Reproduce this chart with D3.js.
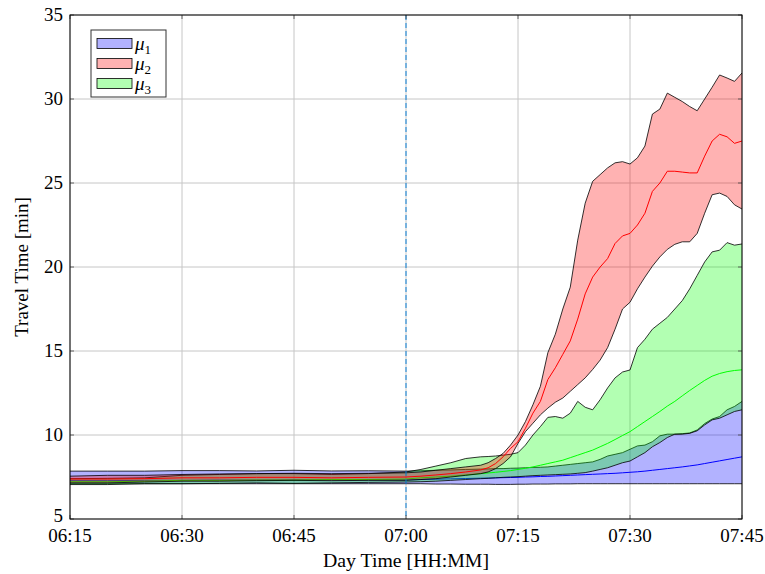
<!DOCTYPE html>
<html>
<head>
<meta charset="utf-8">
<script src="https://cdn.jsdelivr.net/npm/d3@7"></script>
<style>
  body { margin: 0; background: #fff; }
  text { font-family: "Liberation Serif", "DejaVu Serif", serif; }
</style>
</head>
<body>
<svg id="chart" width="765" height="574"></svg>
<script>
// minutes after 06:15
const minutes = [0, 5, 10, 15, 20, 25, 30, 35, 40, 45, 47, 49, 51, 53, 55,
  56, 57, 58, 59, 60, 61, 62, 63, 64, 65, 66, 67, 68, 69, 70, 71, 72, 73, 74, 75,
  76, 77, 78, 79, 80, 81, 82, 83, 84, 85, 86, 87, 88, 89, 90];

// mu_1 (blue)
const mu1Lower = [7.1, 7.1, 7.1, 7.1, 7.1, 7.1, 7.1, 7.1, 7.1, 7.1, 7.1, 7.08, 7.08, 7.07, 7.07,
  7.07, 7.06, 7.06, 7.06, 7.07, 7.07, 7.08, 7.08, 7.08, 7.09, 7.09, 7.09, 7.1, 7.1, 7.1, 7.1, 7.1, 7.1, 7.1, 7.1,
  7.1, 7.1, 7.1, 7.1, 7.1, 7.1, 7.1, 7.1, 7.1, 7.1, 7.1, 7.1, 7.1, 7.1, 7.1];
const mu1Mean = [7.28, 7.28, 7.3, 7.3, 7.32, 7.32, 7.33, 7.33, 7.33, 7.33, 7.35, 7.37, 7.39, 7.41, 7.43,
  7.44, 7.45, 7.46, 7.47, 7.48, 7.5, 7.51, 7.53, 7.54, 7.56, 7.58, 7.6, 7.62, 7.64, 7.66, 7.68, 7.7, 7.72, 7.75, 7.78,
  7.81, 7.85, 7.9, 7.95, 8.0, 8.05, 8.1, 8.16, 8.22, 8.3, 8.38, 8.46, 8.54, 8.62, 8.7];
const mu1Upper = [7.85, 7.85, 7.85, 7.88, 7.88, 7.86, 7.9, 7.86, 7.87, 7.85, 7.87, 7.9, 7.92, 7.95, 7.97,
  7.98, 8.0, 8.0, 8.02, 8.03, 8.05, 8.07, 8.08, 8.1, 8.15, 8.2, 8.25, 8.3, 8.35, 8.4, 8.55, 8.75, 8.85, 8.95, 9.15,
  9.35, 9.4, 9.6, 9.95, 10.05, 10.05, 10.08, 10.12, 10.3, 10.68, 10.95, 11.1, 11.5, 11.7, 12.0];

// mu_2 (red)
const mu2Lower = [7.15, 7.15, 7.2, 7.25, 7.25, 7.28, 7.3, 7.28, 7.3, 7.3, 7.35, 7.4, 7.5, 7.6, 7.7,
  7.8, 8.0, 8.3, 8.7, 9.5, 10.2, 10.7, 11.2, 11.6, 11.95, 12.2, 12.6, 13.0, 13.4, 13.9, 14.46, 15.2, 16.3, 17.5, 17.9,
  18.7, 19.4, 20.05, 20.6, 21.05, 21.35, 21.5, 21.5, 22.0, 23.2, 24.3, 24.4, 24.2, 23.7, 23.45];
const mu2Mean = [7.38, 7.38, 7.4, 7.45, 7.45, 7.48, 7.48, 7.45, 7.48, 7.5, 7.55, 7.62, 7.7, 7.8, 7.92,
  8.05, 8.3, 8.7, 9.2, 9.6, 10.4, 11.3, 12.0, 13.3, 14.0, 14.8, 15.6, 16.9, 18.4, 19.4, 20.0, 20.5, 21.4, 21.85, 22.0,
  22.5, 23.2, 24.5, 25.0, 25.7, 25.7, 25.65, 25.6, 25.6, 26.6, 27.5, 27.9, 27.75, 27.36, 27.5];
const mu2Upper = [7.55, 7.6, 7.6, 7.65, 7.68, 7.7, 7.72, 7.7, 7.72, 7.75, 7.8, 7.9, 8.0, 8.1, 8.2,
  8.35, 8.6, 8.9, 9.4, 10.0, 10.8, 11.8, 12.9, 14.9, 16.0, 17.5, 18.8, 21.6, 23.8, 25.1, 25.5, 25.9, 26.2, 26.27, 26.13,
  26.5, 27.2, 29.1, 29.4, 30.35, 30.1, 29.85, 29.55, 29.3, 30.0, 30.7, 31.43, 31.25, 31.05, 31.55];

// mu_3 (green)
const mu3Lower = [7.05, 7.05, 7.1, 7.1, 7.12, 7.15, 7.12, 7.15, 7.18, 7.2, 7.22, 7.25, 7.3, 7.35, 7.4,
  7.42, 7.45, 7.48, 7.5, 7.52, 7.55, 7.58, 7.6, 7.62, 7.64, 7.66, 7.68, 7.72, 7.76, 7.85, 7.95, 8.05, 8.2, 8.35, 8.45,
  8.7, 8.95, 9.3, 9.55, 9.85, 10.05, 10.05, 10.1, 10.25, 10.6, 10.9, 11.0, 11.2, 11.4, 11.5];
const mu3Mean = [7.22, 7.22, 7.25, 7.3, 7.3, 7.32, 7.32, 7.35, 7.35, 7.38, 7.45, 7.5, 7.55, 7.62, 7.7,
  7.74, 7.78, 7.83, 7.88, 7.95, 8.02, 8.1, 8.2, 8.3, 8.4, 8.5, 8.65, 8.8, 8.95, 9.1, 9.3, 9.5, 9.73, 9.97, 10.2,
  10.5, 10.8, 11.1, 11.4, 11.72, 12.0, 12.33, 12.65, 12.95, 13.25, 13.5, 13.66, 13.77, 13.84, 13.88];
const mu3Upper = [7.4, 7.42, 7.45, 7.6, 7.65, 7.7, 7.7, 7.65, 7.7, 7.8, 7.95, 8.15, 8.35, 8.6, 8.7,
  8.72, 8.75, 8.8, 8.85, 8.95, 9.4, 10.0, 10.5, 11.05, 11.1, 11.0, 11.3, 12.0, 11.65, 11.5, 12.1, 12.8, 13.4, 13.75, 13.87,
  15.2, 15.7, 16.3, 16.65, 17.0, 17.5, 18.0, 18.7, 19.5, 20.3, 20.9, 21.0, 21.45, 21.3, 21.37];

const yTicks = [5, 10, 15, 20, 25, 30, 35];
const xTickMinutes = [0, 15, 30, 45, 60, 75, 90];
const markerMinute = 45; // 07:00

const series = [
    { name: "1", color: "#0000ff", lo: mu1Lower, mean: mu1Mean, hi: mu1Upper },
    { name: "3", color: "#00ff00", lo: mu3Lower, mean: mu3Mean, hi: mu3Upper },
    { name: "2", color: "#ff0000", lo: mu2Lower, mean: mu2Mean, hi: mu2Upper }
]

const FONT = "Liberation Serif, DejaVu Serif, serif"
const margin = { top: 15, right: 23, bottom: 55, left: 70 }
const width = 765 - margin.left - margin.right
const height = 574 - margin.top - margin.bottom

const base = new Date(2000, 0, 1, 6, 15)
const toDate = m => new Date(base.getTime() + m * 60000)

const x = d3.scaleTime().domain([toDate(0), toDate(90)]).range([0, width])
const y = d3.scaleLinear().domain([5, 35]).range([height, 0])

const svg = d3.select("#chart").attr("font-family", FONT)
const g = svg.append("g").attr("transform", `translate(${margin.left},${margin.top})`)

g.append("clipPath").attr("id", "plotclip")
    .append("rect").attr("width", width).attr("height", height)

// grid
g.append("g").selectAll("line").data(xTickMinutes).join("line")
    .attr("x1", d => x(toDate(d))).attr("x2", d => x(toDate(d)))
    .attr("y1", 0).attr("y2", height)
    .attr("stroke", "#c6c6c6").attr("stroke-width", 1)
g.append("g").selectAll("line").data(yTicks).join("line")
    .attr("x1", 0).attr("x2", width)
    .attr("y1", d => y(d)).attr("y2", d => y(d))
    .attr("stroke", "#c6c6c6").attr("stroke-width", 1)

// bands
const plot = g.append("g").attr("clip-path", "url(#plotclip)")

series.forEach(s => {
    const pts = minutes.map((m, i) => ({ t: toDate(m), lo: s.lo[i], mean: s.mean[i], hi: s.hi[i] }))

    plot.append("path")
        .datum(pts)
        .attr("d", d3.area().x(d => x(d.t)).y0(d => y(d.lo)).y1(d => y(d.hi)))
        .attr("fill", s.color)
        .attr("fill-opacity", 0.3)
        .attr("stroke", "none")

    ;["lo", "hi"].forEach(k => {
        plot.append("path")
            .datum(pts)
            .attr("d", d3.line().x(d => x(d.t)).y(d => y(d[k])))
            .attr("fill", "none")
            .attr("stroke", "#000")
            .attr("stroke-width", 0.8)
    })

    plot.append("path")
        .datum(pts)
        .attr("d", d3.line().x(d => x(d.t)).y(d => y(d.mean)))
        .attr("fill", "none")
        .attr("stroke", s.color)
        .attr("stroke-width", 1)
})

// 07:00 marker
g.append("line")
    .attr("x1", x(toDate(markerMinute))).attr("x2", x(toDate(markerMinute)))
    .attr("y1", 0).attr("y2", height)
    .attr("stroke", "#0a80d8").attr("stroke-width", 1)
    .attr("stroke-dasharray", "5,3")

// ticks (inside)
const ticks = g.append("g").attr("stroke", "#444").attr("stroke-width", 0.8)
xTickMinutes.forEach(m => {
    const px = x(toDate(m))
    ticks.append("line").attr("x1", px).attr("x2", px).attr("y1", height).attr("y2", height - 4)
    ticks.append("line").attr("x1", px).attr("x2", px).attr("y1", 0).attr("y2", 4)
})
yTicks.forEach(v => {
    ticks.append("line").attr("x1", 0).attr("x2", 4).attr("y1", y(v)).attr("y2", y(v))
    ticks.append("line").attr("x1", width).attr("x2", width - 4).attr("y1", y(v)).attr("y2", y(v))
})

// frame
g.append("rect").attr("width", width).attr("height", height)
    .attr("fill", "none").attr("stroke", "#000").attr("stroke-width", 1)

// tick labels
const fmt = d3.timeFormat("%H:%M")
g.append("g").selectAll("text").data(xTickMinutes).join("text")
    .attr("x", d => x(toDate(d)))
    .attr("y", height + 23)
    .attr("text-anchor", "middle")
    .attr("font-family", FONT)
    .attr("font-size", 19)
    .text(d => fmt(toDate(d)))

g.append("g").selectAll("text").data(yTicks).join("text")
    .attr("x", -7)
    .attr("y", d => y(d) - (d === 5 ? 3 : 0))
    .attr("dy", "0.32em")
    .attr("text-anchor", "end")
    .attr("font-family", FONT)
    .attr("font-size", 19)
    .text(d => d)

// axis titles
svg.append("text")
    .attr("x", margin.left + width / 2)
    .attr("y", 567)
    .attr("text-anchor", "middle")
    .attr("font-family", FONT)
    .attr("font-size", 19.8)
    .text("Day Time [HH:MM]")

svg.append("text")
    .attr("transform", `translate(28,${margin.top + height / 2}) rotate(-90)`)
    .attr("text-anchor", "middle")
    .attr("font-family", FONT)
    .attr("font-size", 19)
    .text("Travel Time [min]")

// legend
const legendItems = [
    { name: "1", color: "#0000ff" },
    { name: "2", color: "#ff0000" },
    { name: "3", color: "#00ff00" }
]
const legend = svg.append("g").attr("transform", "translate(91,30)")
legend.append("rect")
    .attr("width", 75).attr("height", 67)
    .attr("fill", "#fff").attr("stroke", "#333").attr("stroke-width", 1)
legendItems.forEach((d, i) => {
    const row = legend.append("g").attr("transform", `translate(0,${13.5 + i * 20})`)
    row.append("rect")
        .attr("x", 6).attr("y", -5).attr("width", 35).attr("height", 10)
        .attr("fill", d.color).attr("fill-opacity", 0.3)
        .attr("stroke", "#000").attr("stroke-width", 0.8)
    const t = row.append("text").attr("x", 44).attr("y", 6)
        .attr("font-family", FONT).attr("font-size", 19)
    t.append("tspan").attr("font-style", "italic").text("\u03bc")
    t.append("tspan").attr("font-size", 13).attr("dy", 4).text(d.name)
})
</script>
</body>
</html>
